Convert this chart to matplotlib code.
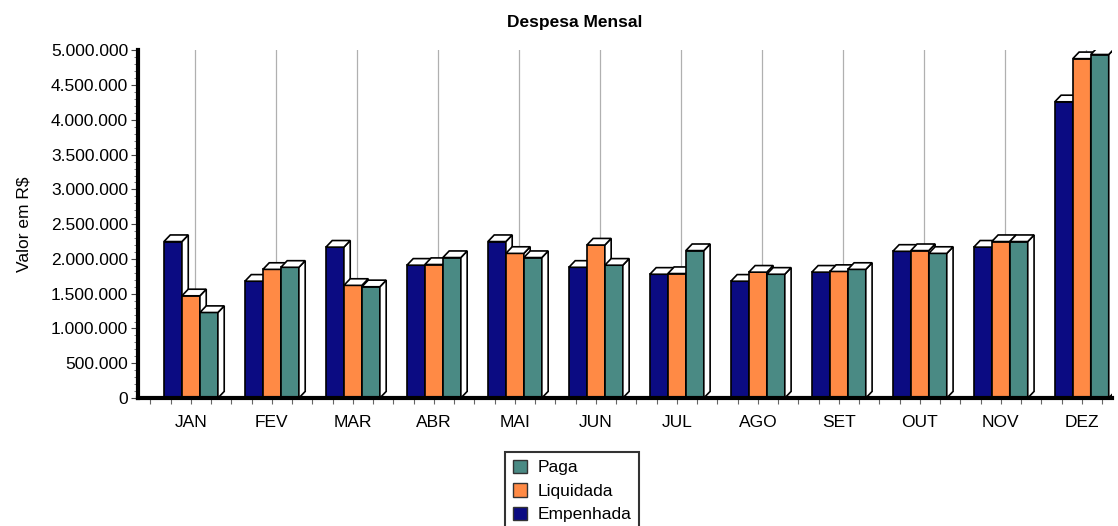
import matplotlib.pyplot as plt
import numpy as np
from matplotlib.patches import Polygon, Patch
from matplotlib.ticker import FuncFormatter, MultipleLocator

plt.rcParams['font.family'] = ['Liberation Sans', 'DejaVu Sans']

# data
meses = ['JAN', 'FEV', 'MAR', 'ABR', 'MAI', 'JUN', 'JUL', 'AGO', 'SET', 'OUT', 'NOV', 'DEZ']
empenhada = [2250000, 1680000, 2170000, 1910000, 2250000, 1880000, 1780000, 1680000, 1810000, 2110000, 2170000, 4260000]
liquidada = [1470000, 1850000, 1620000, 1920000, 2080000, 2200000, 1790000, 1810000, 1820000, 2120000, 2250000, 4880000]
paga = [1230000, 1880000, 1600000, 2020000, 2020000, 1910000, 2120000, 1780000, 1850000, 2080000, 2250000, 4940000]

series = [('Empenhada', empenhada, '#0b0b82'),
          ('Liquidada', liquidada, '#ff8a45'),
          ('Paga', paga, '#4a8a84')]

fig = plt.figure(figsize=(11.18, 5.26), dpi=100)
ax = fig.add_axes([0.1234, 0.2433, 0.871, 0.661])

x = np.arange(len(meses))
w = 0.222
dx = 0.078   # 3D depth in x units
dy = 95000   # 3D depth in value units

# vertical grid lines (back wall)
for xi in x:
    ax.axvline(xi + 0.05, color='#b0b0b0', lw=0.9, zorder=0)

for k, (nome, vals, cor) in enumerate(series):
    xs = x - w + k * w
    z = 2 + k
    ax.bar(xs, vals, width=w, color=cor, edgecolor='black', lw=1.2, zorder=z)
    for xc, v in zip(xs, vals):
        x0, x1 = xc - w / 2, xc + w / 2
        top = Polygon([(x0, v), (x0 + dx, v + dy), (x1 + dx, v + dy), (x1, v)],
                      closed=True, facecolor='white', edgecolor='black', lw=1.2, zorder=z + 0.1)
        side = Polygon([(x1, 0), (x1 + dx, dy), (x1 + dx, v + dy), (x1, v)],
                       closed=True, facecolor='white', edgecolor='black', lw=1.2, zorder=z + 0.1)
        ax.add_patch(side)
        ax.add_patch(top)

ax.set_xlim(-0.654, 11.37)
ax.set_ylim(0, 5000000)
ax.set_xticks(x)
ax.set_xticklabels(meses, fontsize=12.5)
ax.xaxis.set_minor_locator(MultipleLocator(0.25))
ax.yaxis.set_major_locator(MultipleLocator(500000))
ax.yaxis.set_minor_locator(MultipleLocator(100000))
ax.yaxis.set_major_formatter(FuncFormatter(lambda v, p: f'{v:,.0f}'.replace(',', '.')))
ax.tick_params(axis='y', labelsize=12.5, length=5, width=0.8, color='#444444', pad=2)
ax.tick_params(axis='y', which='minor', length=3, width=0.6, color='#666666')
ax.tick_params(axis='x', which='both', length=4, width=0.8, color='#666666', labelsize=12.5, pad=8)

for s in ['top', 'right']:
    ax.spines[s].set_visible(False)
for s in ['left', 'bottom']:
    ax.spines[s].set_linewidth(3)
    ax.spines[s].set_zorder(10)

ax.set_ylabel('Valor em R$', fontsize=12.5, labelpad=14)
fig.text(575 / 1118, 1 - 22 / 526, 'Despesa Mensal', fontsize=12.5, fontweight='bold',
         ha='center', va='center')

handles = [Patch(facecolor=c, edgecolor='#333333', label=n) for n, _, c in reversed(series)]
leg = fig.legend(handles=handles, loc='upper center', bbox_to_anchor=(572 / 1118, 1 - 452 / 526),
                 fontsize=12.5, frameon=True, fancybox=False, handlelength=0.8, handleheight=0.8,
                 borderpad=0.45, labelspacing=0.45, handletextpad=0.6, borderaxespad=0)
leg.get_frame().set_edgecolor('black')
leg.get_frame().set_linewidth(1.5)

fig.savefig('out.png', dpi=100)
